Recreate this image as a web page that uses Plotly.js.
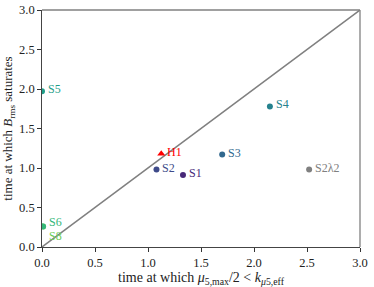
<!DOCTYPE html>
<html><head><meta charset="utf-8">
<script src="https://cdn.plot.ly/plotly-3.0.1.min.js"></script>
<style>body{margin:0;padding:0;background:#fff}#c{width:374px;height:287px}</style>
</head><body><div id="c"></div>
<script>
const labels = ["S1","S2","S3","S4","S5","S8","S6","S2λ2","H1"];
const xVals = [1.33, 1.08, 1.70, 2.15, 0.0, 0.01, 0.01, 2.52, 1.125];
const yVals = [0.91, 0.98, 1.17, 1.78, 1.97, 0.26, 0.26, 0.98, 1.18];
const colors = ["#482878","#3e4a89","#31688e","#26828e","#1f9e89","#6ece58","#35b779","#808080","#ff0000"];
const symbols = ["circle","circle","circle","circle","circle","circle","circle","circle","triangle-up"];
const diagX = [0, 3];
const diagY = [0, 3];
const xTicks = [0.0, 0.5, 1.0, 1.5, 2.0, 2.5, 3.0];
const yTicks = [0.0, 0.5, 1.0, 1.5, 2.0, 2.5, 3.0];

const font = "'Liberation Serif', 'DejaVu Serif', serif";
const traces = [{
  x: diagX, y: diagY, mode: "lines", type: "scatter",
  line: {color: "#808080", width: 1.5}, hoverinfo: "skip", showlegend: false
}];
labels.forEach((l, i) => {
  traces.push({
    x: [xVals[i]], y: [yVals[i]], mode: "markers", type: "scatter", name: l,
    marker: {color: colors[i], size: symbols[i] === "circle" ? 6 : 7, symbol: symbols[i]},
    showlegend: false
  });
});
const annotations = labels.map((l, i) => ({
  x: xVals[i], y: yVals[i], text: l, showarrow: false,
  xanchor: "left", yanchor: "middle", xshift: 4,
  yshift: l === "S8" ? -10 : (l === "S6" ? 4 : 2),
  font: {family: font, size: 12, color: colors[i]}
}));
const axisCommon = {
  range: [0, 3], showgrid: false, zeroline: false, ticks: "outside", ticklen: 3.5,
  tickwidth: 1, tickcolor: "#333", showline: true, linecolor: "#444", linewidth: 1.3,
  mirror: false, tickfont: {family: font, size: 12.5, color: "#222"}, tickformat: ".1f"
};
const frame = {type: "line", xref: "paper", yref: "paper", line: {color: "#808080", width: 1.3}, layer: "above"};
const layout = {
  width: 374, height: 287,
  margin: {l: 42, r: 14, t: 10, b: 40},
  paper_bgcolor: "#fff", plot_bgcolor: "#fff",
  font: {family: font},
  xaxis: Object.assign({}, axisCommon, {tickvals: xTicks,
    title: {text: "time at which <i>μ</i><sub>5,max</sub>/2 &lt; <i>k</i><sub><i>μ</i>5,eff</sub>", font: {family: font, size: 14, color: "#222"}, standoff: 2}}),
  yaxis: Object.assign({}, axisCommon, {tickvals: yTicks,
    title: {text: "time at which <i>B</i><sub>rms</sub> saturates", font: {family: font, size: 13, color: "#222"}, standoff: 4}}),
  shapes: [
    Object.assign({}, frame, {x0: 0, x1: 1, y0: 1, y1: 1}),
    Object.assign({}, frame, {x0: 1, x1: 1, y0: 0, y1: 1})
  ],
  annotations: annotations,
  showlegend: false
};
Plotly.newPlot("c", traces, layout, {displayModeBar: false, staticPlot: true});
</script></body></html>
